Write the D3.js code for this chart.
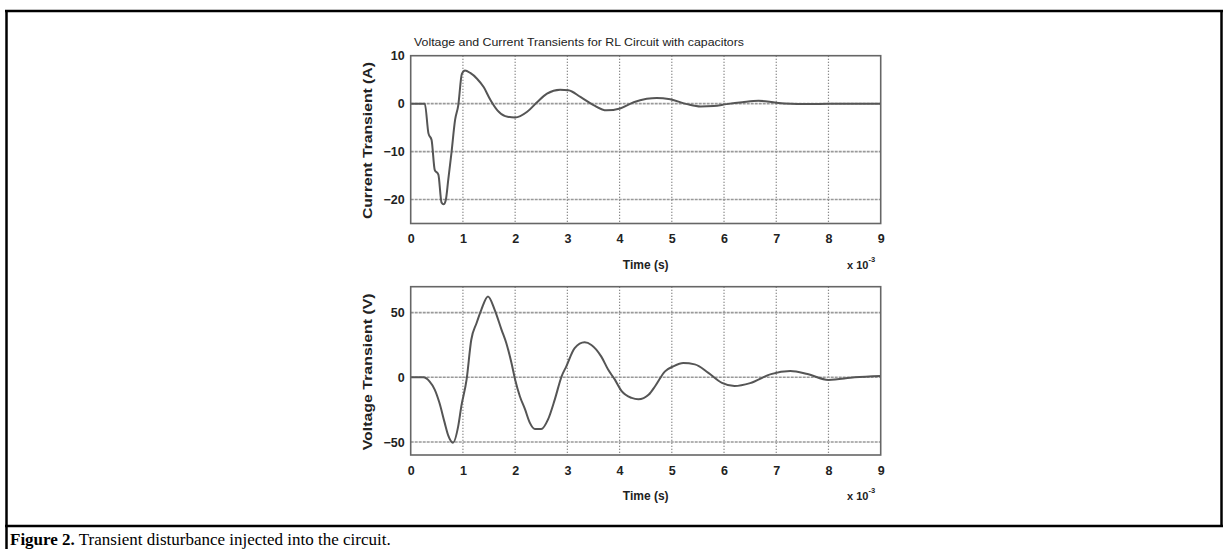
<!DOCTYPE html>
<html>
<head>
<meta charset="utf-8">
<script src="https://cdnjs.cloudflare.com/ajax/libs/d3/7.8.5/d3.min.js"></script>
<style>
  body { margin: 0; background: #fff; }
  svg { display: block; }
</style>
</head>
<body>
<div id="chart"></div>
<script>
// time axis in units of 1e-3 s
var timeTicks = [0, 1, 2, 3, 4, 5, 6, 7, 8, 9];
var currentTicks = [-20, -10, 0, 10];
var voltageTicks = [-50, 0, 50];

// current transient (A)
var currentTime = [0, 0.27, 0.34, 0.40, 0.46, 0.53, 0.59, 0.63, 0.67, 0.72, 0.78, 0.85, 0.91, 0.98, 1.04, 1.14, 1.27, 1.40, 1.53, 1.66, 1.81, 2.0, 2.23, 2.42, 2.61, 2.86, 3.02, 3.25, 3.5, 3.75, 4.01, 4.27, 4.52, 4.71, 4.97, 5.29, 5.55, 5.80, 6.05, 6.35, 6.66, 7.0, 7.5, 8.0, 8.5, 9.0];
var currentVal = [0, 0, -6.2, -7.6, -13.8, -14.8, -20.6, -21, -20.2, -15.8, -10.3, -3.4, -0.4, 6.2, 6.9, 6.4, 5.2, 3.4, 0.7, -1.4, -2.6, -2.9, -1.7, 0.3, 2.1, 2.9, 2.8, 1.4, -0.3, -1.4, -1.0, 0.3, 1.0, 1.2, 0.9, -0.1, -0.6, -0.5, -0.1, 0.3, 0.6, 0.2, -0.1, 0, 0, 0];

// voltage transient (V)
var voltageTime = [0, 0.24, 0.36, 0.46, 0.55, 0.65, 0.72, 0.81, 0.91, 0.97, 1.07, 1.16, 1.26, 1.35, 1.48, 1.61, 1.74, 1.83, 1.93, 2.0, 2.09, 2.19, 2.28, 2.38, 2.50, 2.63, 2.76, 2.89, 2.98, 3.14, 3.33, 3.46, 3.65, 3.78, 3.91, 4.04, 4.23, 4.36, 4.56, 4.68, 4.87, 5.03, 5.22, 5.44, 5.70, 5.96, 6.2, 6.5, 6.9, 7.27, 7.6, 8.0, 8.5, 9.0];
var voltageVal = [0, 0, -3.1, -9.5, -19.7, -35, -45, -50.5, -37.7, -22.3, -1.8, 29, 41.8, 52, 62.5, 52, 36.7, 26.5, 11, -1.8, -14.6, -24.8, -35, -40, -40, -32.5, -17, 0.8, 8.5, 22.6, 27, 25, 16, 6, -1.8, -10.7, -15.9, -17, -13.3, -6.9, 4.6, 8.5, 11, 10, 3.4, -4.3, -6.7, -4.5, 2.5, 4.8, 2.5, -2, 0, 1];

var width = 1228, height = 549;

var svg = d3.select("#chart").append("svg")
    .attr("width", width)
    .attr("height", height);

// page frame
svg.append("line").attr("x1", 5).attr("x2", 1223).attr("y1", 11).attr("y2", 11)
    .attr("stroke", "#000").attr("stroke-width", 2.5);
svg.append("line").attr("x1", 5).attr("x2", 1223).attr("y1", 526).attr("y2", 526)
    .attr("stroke", "#000").attr("stroke-width", 2.5);
svg.append("line").attr("x1", 6.5).attr("x2", 6.5).attr("y1", 10).attr("y2", 549)
    .attr("stroke", "#000").attr("stroke-width", 2.5);
svg.append("line").attr("x1", 1221.5).attr("x2", 1221.5).attr("y1", 10).attr("y2", 527)
    .attr("stroke", "#000").attr("stroke-width", 2.5);

var caption = svg.append("text")
    .attr("x", 10).attr("y", 545)
    .style("font-family", "'Liberation Serif', 'Times New Roman', serif")
    .style("font-size", "17px")
    .attr("fill", "#000");
caption.append("tspan").style("font-weight", "bold").text("Figure 2.");
caption.append("tspan").text(" Transient disturbance injected into the circuit.");

var x = d3.scaleLinear().domain([0, 9]).range([410.7, 880.7]);

var tickFont = "'Liberation Sans', Arial, sans-serif";

var drawPanel = function(top, bottom, domain, yTicks, times, vals, yLabel){
    var y = d3.scaleLinear().domain(domain).range([bottom, top]);
    var g = svg.append("g");

    // grid
    g.selectAll("line.vgrid").data(timeTicks.slice(1, -1)).enter().append("line")
        .attr("x1", function(d){ return x(d); })
        .attr("x2", function(d){ return x(d); })
        .attr("y1", top).attr("y2", bottom)
        .attr("stroke", "#666").attr("stroke-width", 1.2)
        .attr("stroke-dasharray", "1,2");
    g.selectAll("line.hgrid").data(yTicks.filter(function(d){ return y(d) > top + 1; })).enter().append("line")
        .attr("x1", x(0)).attr("x2", x(9))
        .attr("y1", function(d){ return y(d); })
        .attr("y2", function(d){ return y(d); })
        .attr("stroke", "#999").attr("stroke-width", 1.6)
        .attr("stroke-dasharray", "3,1");

    // curve
    var pts = times.map(function(t, i){ return [t, vals[i]]; });
    g.append("path").datum(pts)
        .attr("d", d3.line().x(function(d){ return x(d[0]); }).y(function(d){ return y(d[1]); }).curve(d3.curveMonotoneX))
        .attr("fill", "none")
        .attr("stroke", "#555")
        .attr("stroke-width", 2);

    // frame
    g.append("rect")
        .attr("x", x(0)).attr("y", top)
        .attr("width", x(9) - x(0)).attr("height", bottom - top)
        .attr("fill", "none").attr("stroke", "#666").attr("stroke-width", 1.6);

    var xAxis = d3.axisBottom(x).tickValues(timeTicks).tickSize(0).tickPadding(11);
    var ax = g.append("g").attr("transform", "translate(0," + bottom + ")").call(xAxis);
    ax.select(".domain").remove();
    ax.selectAll("text")
        .style("font-family", tickFont).style("font-size", "12.5px")
        .style("font-weight", "bold").attr("fill", "#222");

    var yAxis = d3.axisLeft(y).tickValues(yTicks).tickSize(0).tickPadding(6);
    var ay = g.append("g").attr("transform", "translate(" + x(0) + ",0)").call(yAxis);
    ay.select(".domain").remove();
    ay.selectAll("text")
        .style("font-family", tickFont).style("font-size", "12.5px")
        .style("font-weight", "bold").attr("fill", "#222");

    g.append("text")
        .attr("x", (x(0) + x(9)) / 2).attr("y", bottom + 45)
        .attr("text-anchor", "middle")
        .style("font-family", tickFont).style("font-size", "12px")
        .style("font-weight", "bold").attr("fill", "#222")
        .text("Time (s)");

    var mult = g.append("text")
        .attr("x", 847).attr("y", bottom + 45)
        .style("font-family", tickFont).style("font-size", "11px")
        .style("font-weight", "bold").attr("fill", "#222");
    mult.append("tspan").text("x 10");
    mult.append("tspan").attr("dy", -7).style("font-size", "7.5px").text("-3");

    g.append("text")
        .attr("transform", "translate(372," + ((top + bottom) / 2 + 1) + ") rotate(-90)")
        .attr("text-anchor", "middle")
        .attr("textLength", 157).attr("lengthAdjust", "spacingAndGlyphs")
        .style("font-family", tickFont).style("font-size", "13px")
        .style("font-weight", "bold").attr("fill", "#222")
        .text(yLabel);
};

drawPanel(55.7, 223.5, [-25, 10], currentTicks, currentTime, currentVal, "Current Transient (A)");
drawPanel(286.7, 455, [-60, 70], voltageTicks, voltageTime, voltageVal, "Voltage Transient (V)");

svg.append("text")
    .attr("x", 414).attr("y", 46)
    .attr("textLength", 330).attr("lengthAdjust", "spacingAndGlyphs")
    .style("font-family", tickFont).style("font-size", "11.5px")
    .attr("fill", "#222")
    .text("Voltage and Current Transients for RL Circuit with capacitors");
</script>
</body>
</html>
